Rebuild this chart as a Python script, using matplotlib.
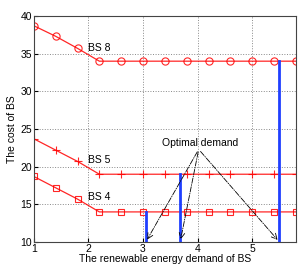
import matplotlib
matplotlib.use("Agg")
import matplotlib.pyplot as plt

plt.rcParams['font.family'] = ['Liberation Sans', 'DejaVu Sans']

demand = [1.0, 1.4, 1.8, 2.2, 2.6, 3.0, 3.4, 3.8, 4.2, 4.6, 5.0, 5.4, 5.8]
cost_bs8 = [38.7, 37.3, 35.7, 34, 34, 34, 34, 34, 34, 34, 34, 34, 34]
cost_bs5 = [23.7, 22.2, 20.7, 19, 19, 19, 19, 19, 19, 19, 19, 19, 19]
cost_bs4 = [18.7, 17.2, 15.7, 14, 14, 14, 14, 14, 14, 14, 14, 14, 14]

opt_x = [3.05, 3.68, 5.5]
opt_cost = [14, 19, 34]

fig = plt.figure(figsize=(3.05, 2.66), dpi=100)
ax = fig.add_axes([0.111, 0.09, 0.859, 0.85])

ax.plot(demand, cost_bs8, color='red', lw=0.9, marker='o', ms=5.2, mfc='none', mew=0.8, alpha=0.85)
ax.plot(demand, cost_bs5, color='red', lw=0.9, marker='+', ms=5.2, mew=0.8, alpha=0.85)
ax.plot(demand, cost_bs4, color='red', lw=0.9, marker='s', ms=4.5, mfc='none', mew=0.8, alpha=0.85)

# optimal demand bars
for x, c in zip(opt_x, opt_cost):
    ax.plot([x, x], [10, c], color='#1f3fff', lw=2)

ax.text(2.0, 35.8, 'BS 8', fontsize=7.5, ha='left', va='center')
ax.text(2.0, 20.9, 'BS 5', fontsize=7.5, ha='left', va='center')
ax.text(2.0, 16.0, 'BS 4', fontsize=7.5, ha='left', va='center')
ax.text(4.05, 23.1, 'Optimal demand', fontsize=7.5, ha='center', va='center')

for x in opt_x:
    ax.annotate('', xy=(x, 10), xytext=(4.02, 22.3),
                arrowprops=dict(arrowstyle='->', linestyle='-.', color='k', lw=0.6))

ax.set_xlim(1, 5.8)
ax.set_ylim(10, 40)
ax.set_xticks([1, 2, 3, 4, 5])
ax.set_yticks([10, 15, 20, 25, 30, 35, 40])
ax.grid(True, linestyle=':', color='#888888', lw=0.7)
ax.tick_params(direction='in', labelsize=7.5, length=3, pad=1.5)
ax.set_xlabel('The renewable energy demand of BS', fontsize=7.5, labelpad=0)
ax.set_ylabel('The cost of BS', fontsize=7.5, labelpad=2)
for s in ax.spines.values():
    s.set_color('#444444')

fig.savefig('out.png', dpi=100)
